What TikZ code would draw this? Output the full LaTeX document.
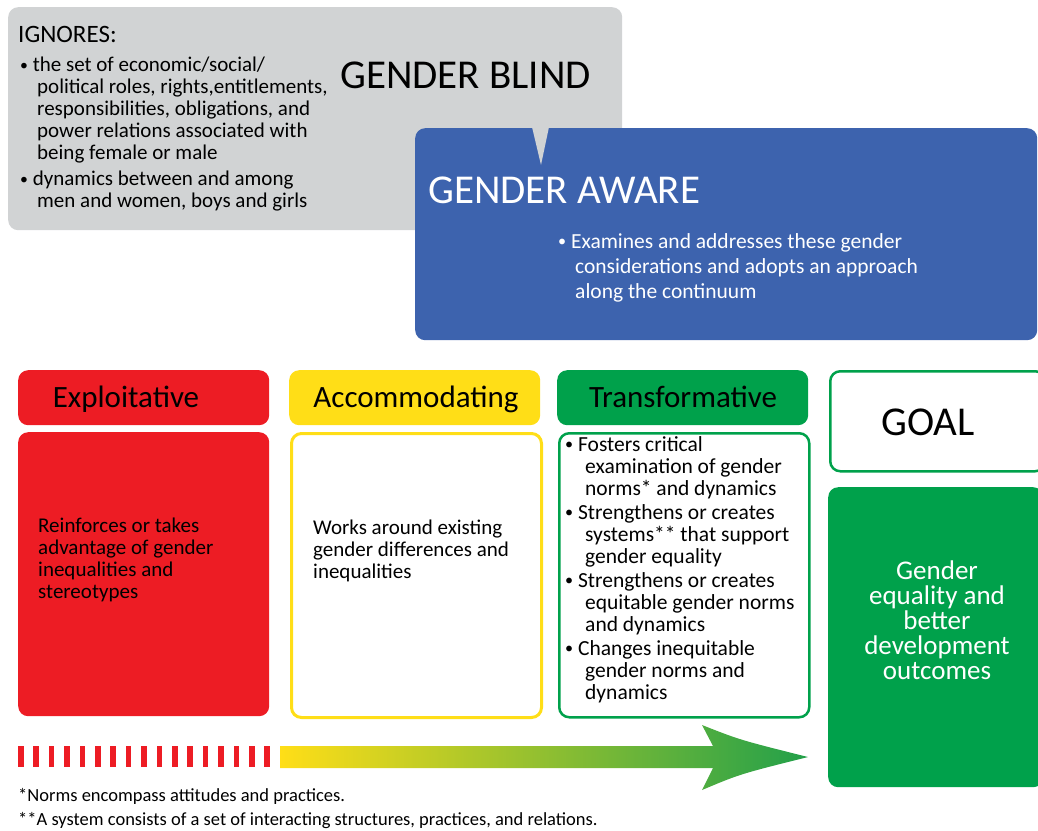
\documentclass[tikz,border=0pt]{standalone}
\usepackage{fontspec}
\setmainfont{Carlito}
\definecolor{gbgray}{HTML}{D1D3D4}
\definecolor{gablue}{HTML}{3D63AE}
\definecolor{exred}{HTML}{ED1C24}
\definecolor{acyel}{HTML}{FFDE17}
\definecolor{trgreen}{HTML}{00A14B}
\definecolor{argreen}{HTML}{22A04A}
\newcommand\bul{\raisebox{0.12ex}{\scalebox{0.75}{•}}}
\begin{document}
\begin{tikzpicture}[x=1pt,y=-1pt,
  box/.style={anchor=north west,inner sep=0pt,rounded corners=10pt},
  body/.style={inner sep=0pt,anchor=north west,align=left,font=\fontsize{21}{22}\selectfont},
  head/.style={font=\fontsize{31}{33}\selectfont,inner sep=0pt},
  big/.style={font=\fontsize{41}{44}\selectfont,inner sep=0pt}]
\useasboundingbox (0,0) rectangle (1038,830);
% gray bubble
\node[box,fill=gbgray,minimum width=614pt,minimum height=223pt] (blind) at (8,7) {};
% blue box
\node[box,fill=gablue,minimum width=622pt,minimum height=212pt] (aware) at (415,128) {};
\fill[gbgray] (532,127) -- (549,127) -- (541,165) -- cycle;
\node[body,font=\fontsize{25}{26}\selectfont] (ign) at (18,26) {IGNORES:};
\node[body] (ignl) at (20,57) {%
\bul{} the set of economic/social/\\
\hspace*{17pt}political roles, rights,entitlements,\\
\hspace*{17pt}responsibilities, obligations, and\\
\hspace*{17pt}power relations associated with\\
\hspace*{17pt}being female or male\\[4pt]
\bul{} dynamics between and among\\
\hspace*{17pt}men and women, boys and girls};
\node[big,anchor=base west] (blindt) at (340,88) {GENDER BLIND};
\node[big,anchor=base west,text=white] (awaret) at (428,203) {GENDER AWARE};
\node[body,text=white,font=\fontsize{21.5}{25}\selectfont] (awarel) at (558,233) {%
\bul{} Examines and addresses these gender\\
\hspace*{17pt}considerations and adopts an approach\\
\hspace*{17pt}along the continuum};
% headers
\node[box,fill=exred,minimum width=251pt,minimum height=55pt] (exh) at (18,370) {};
\node[head,anchor=base] (ext) at (126,407) {Exploitative};
\node[box,fill=acyel,minimum width=251pt,minimum height=55pt] (ach) at (289,370) {};
\node[head,anchor=base] (act) at (416,407) {Accommodating};
\node[box,fill=trgreen,minimum width=251pt,minimum height=55pt] (trh) at (557,370) {};
\node[head,anchor=base] (trt) at (683,407) {Transformative};
\node[box,draw=trgreen,line width=2.5pt,minimum width=215pt,minimum height=100pt] (goalh) at (829,370) {};
\node[big,anchor=base] (goalt) at (928,435) {GOAL};
% bodies
\node[box,fill=exred,minimum width=251pt,minimum height=284pt] (exb) at (18,432) {};
\node[body] (exbt) at (38,518) {Reinforces or takes\\advantage of gender\\inequalities and\\stereotypes};
\node[box,draw=acyel,line width=3pt,minimum width=250pt,minimum height=284pt] (acb) at (290,432) {};
\node[body] (acbt) at (313,520) {Works around existing\\gender differences and\\inequalities};
\node[box,draw=trgreen,line width=2.5pt,minimum width=250pt,minimum height=284pt] (trb) at (558,432) {};
\node[body,font=\fontsize{21.5}{22}\selectfont] (trbt) at (565,436) {%
\bul{} Fosters critical\\
\hspace*{20pt}examination of gender\\
\hspace*{20pt}norms* and dynamics\\[2pt]
\bul{} Strengthens or creates\\
\hspace*{20pt}systems** that support\\
\hspace*{20pt}gender equality\\[2pt]
\bul{} Strengthens or creates\\
\hspace*{20pt}equitable gender norms\\
\hspace*{20pt}and dynamics\\[2pt]
\bul{} Changes inequitable\\
\hspace*{20pt}gender norms and\\
\hspace*{20pt}dynamics};
\node[box,fill=trgreen,minimum width=215pt,minimum height=300pt] (goalb) at (828,487) {};
\node[inner sep=0pt,align=center,text=white,font=\fontsize{27}{25}\selectfont] (goalbt) at (937,620) {Gender\\equality and\\better\\development\\outcomes};
% stripes
\foreach \i in {0,...,16} \fill[exred] (18+\i*15.4,746) rectangle ++(5.5,21);
% arrow
\coordinate (arS) at (280,746);
\coordinate (arT) at (808,757);
\shade[left color=acyel,right color=argreen]
  (arS) -- (713,746) -- (702,725) .. controls (740,740) .. (arT) .. controls (740,774) .. (702,790) -- (713,768) -- (280,768) -- cycle;
% footnotes
\node[body,font=\fontsize{18.5}{24}\selectfont] (fn) at (18,788) {*Norms encompass attitudes and practices.\\**A system consists of a set of interacting structures, practices, and relations.};
\end{tikzpicture}
\end{document}
